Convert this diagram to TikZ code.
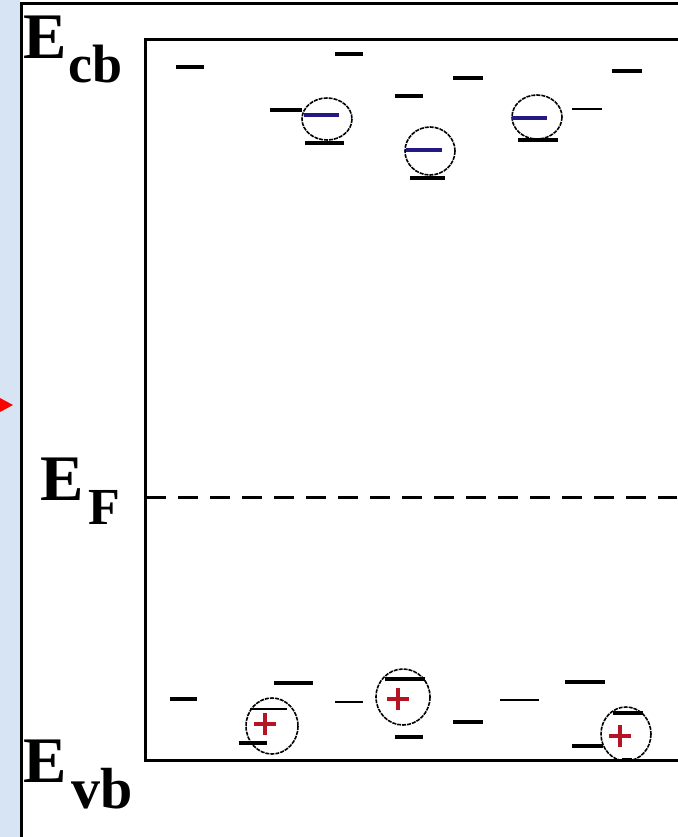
\documentclass[tikz,border=0pt]{standalone}
\usepackage{fontspec}
\setmainfont{Liberation Serif}
\definecolor{strip}{RGB}{214,228,244}
\definecolor{eminus}{RGB}{35,25,130}
\definecolor{hplus}{RGB}{180,20,35}
\begin{document}
\begin{tikzpicture}[x=1pt,y=-1pt,
  lvl/.style={line width=4pt},
  thinlvl/.style={line width=1.8pt},
  trap/.style={line width=1.6pt, dash pattern=on 4pt off 1pt},
  minusbar/.style={eminus, line width=4pt},
  plusbar/.style={hplus, line width=4pt},
  frame/.style={line width=3pt},
  bigE/.style={anchor=base west, inner sep=0pt, font=\fontsize{65}{65}\selectfont\bfseries},
  subs/.style={anchor=base west, inner sep=0pt, font=\fontsize{52}{52}\selectfont\bfseries}]
\useasboundingbox (0,0) rectangle (677,837);
\fill[white] (0,0) rectangle (677,837);
\fill[strip] (0,0) rectangle (20,837);
% red arrow tip
\fill[red] (0,398) -- (13,405) -- (0,412) -- cycle;
% outer frame
\draw[frame] (21.5,845) -- (21.5,3.5) -- (685,3.5);
% inner box
\coordinate (tl) at (145,40);
\coordinate (bl) at (145,760);
\draw[frame] (685,40) -- (tl) -- (bl) -- (685,760);
% Fermi level
\coordinate (fl) at (146,497);
\coordinate (fr) at (677,497);
\draw[line width=3pt, dash pattern=on 20pt off 12pt] (fl) -- (fr);
% labels
\node[bigE] (ecb) at (23,59) {E};
\node[subs, font=\fontsize{54}{54}\selectfont\bfseries] (cb) at (68,83) {cb};
\node[bigE] (ef) at (40,500) {E};
\node[subs] (f) at (88,524) {F};
\node[bigE] (evb) at (23,782) {E};
\node[subs, font=\fontsize{58}{58}\selectfont\bfseries] (vb) at (71,808) {vb};
% conduction band levels
\draw[lvl] (176,67) -- (204,67);
\draw[lvl] (335,54) -- (363,54);
\draw[lvl] (270,110) -- (302,110);
\draw[lvl] (305,143) -- (344,143);
\draw[lvl] (395,96) -- (423,96);
\draw[lvl] (410,178) -- (445,178);
\draw[lvl] (453,78) -- (483,78);
\draw[lvl] (518,140) -- (558,140);
\draw[thinlvl] (572,109) -- (602,109);
\draw[lvl] (612,71) -- (642,71);
% trapped electrons
\draw[trap] (327,119) ellipse [x radius=25, y radius=21];
\draw[minusbar] (304,115) -- (339,115);
\draw[trap] (430,151) ellipse [x radius=25, y radius=24];
\draw[minusbar] (406,150) -- (442,150);
\draw[trap] (537,117) ellipse [x radius=25, y radius=22];
\draw[minusbar] (512,118) -- (547,118);
% valence band levels
\draw[lvl] (170,699) -- (197,699);
\draw[lvl] (274,683) -- (313,683);
\draw[thinlvl] (250,709) -- (287,709);
\draw[lvl] (239,743) -- (267,743);
\draw[thinlvl] (335,702) -- (363,702);
\draw[lvl] (385,679) -- (425,679);
\draw[lvl] (395,737) -- (423,737);
\draw[lvl] (453,722) -- (483,722);
\draw[thinlvl] (500,700) -- (539,700);
\draw[lvl] (565,682) -- (605,682);
\draw[lvl] (613,713) -- (643,713);
\draw[lvl] (572,746) -- (603,746);
\draw[lvl] (622,760) -- (632,760);
% trapped holes
\draw[trap] (272,726) ellipse [x radius=26, y radius=28];
\draw[plusbar] (254,724) -- (276,724) (265,713) -- (265,735);
\draw[trap] (403,697) ellipse [x radius=27, y radius=28];
\draw[plusbar] (387,699) -- (409,699) (398,688) -- (398,710);
\draw[trap] (626,734) ellipse [x radius=25, y radius=27];
\draw[plusbar] (609,736) -- (631,736) (620,725) -- (620,747);
\end{tikzpicture}
\end{document}
